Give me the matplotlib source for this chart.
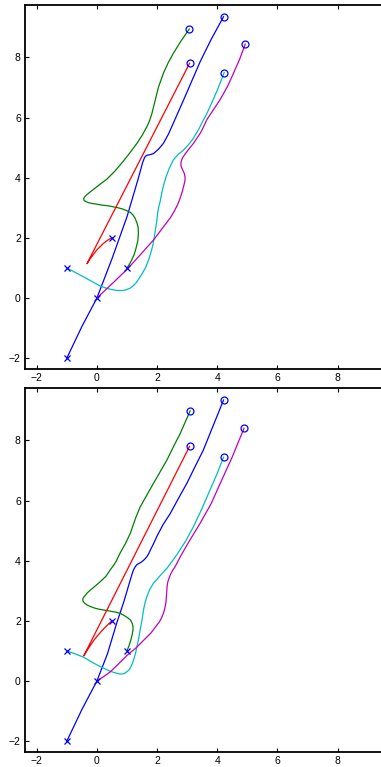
import matplotlib
matplotlib.use('Agg')
import matplotlib.pyplot as plt
import numpy as np

plt.rcParams['font.family'] = ['Liberation Sans', 'DejaVu Sans']

#%% Trajectories (top panel)
blue_top_x = [-1, -0.5, 0, 0.5, 1.0, 1.36, 1.52, 1.58, 1.62, 1.68, 1.75, 1.88, 2.05, 2.21, 2.38, 2.54, 2.88, 3.43, 3.8, 4.21]
blue_top_y = [-2, -0.95, 0, 1.3, 2.7, 3.92, 4.5, 4.66, 4.72, 4.75, 4.76, 4.8, 4.95, 5.14, 5.45, 5.81, 6.58, 7.85, 8.6, 9.35]

green_top_x = [1.0, 1.08, 1.16, 1.24, 1.3, 1.36, 1.38, 1.37, 1.33, 1.27, 1.2, 1.12, 1.0, 0.85, 0.7, 0.5, 0.33, 0.15,
               0, -0.15, -0.28, -0.38, -0.43, -0.44, -0.41, -0.34, -0.22, -0.05, 0.13, 0.33, 0.6, 0.88,
               1.1, 1.33, 1.5, 1.66, 1.76, 1.83, 1.94, 2.05, 2.21, 2.37, 2.54, 2.8, 3.07]
green_top_y = [1.0, 1.12, 1.27, 1.45, 1.65, 1.9, 2.15, 2.35, 2.5, 2.65, 2.76, 2.84, 2.9, 2.96, 3.0, 3.04, 3.07, 3.09,
               3.12, 3.14, 3.17, 3.21, 3.25, 3.3, 3.36, 3.43, 3.53, 3.66, 3.8, 3.95, 4.22, 4.55,
               4.83, 5.14, 5.4, 5.69, 5.92, 6.14, 6.58, 7.02, 7.47, 7.82, 8.13, 8.55, 8.94]

red_top_x = [0.5, 0.4, 0.3, 0.2, 0.11, 0.0, -0.1, -0.22, -0.33, 3.08]
red_top_y = [2.0, 1.95, 1.88, 1.8, 1.71, 1.6, 1.47, 1.31, 1.14, 7.8]

cyan_top_x = [-1, -0.72, -0.44, -0.15, 0.11, 0.3, 0.45, 0.6, 0.72, 0.85, 0.95, 1.04, 1.11, 1.2, 1.3, 1.37, 1.44,
              1.52, 1.6, 1.66, 1.72, 1.77, 1.82, 1.86, 1.89, 1.92, 1.95, 1.99, 2.02, 2.05, 2.1, 2.14,
              2.18, 2.23, 2.3, 2.4, 2.54, 2.7, 2.88, 3.05, 3.2, 3.38, 3.54, 3.65, 3.76, 4.0, 4.23]
cyan_top_y = [1, 0.85, 0.7, 0.54, 0.4, 0.33, 0.29, 0.26, 0.25, 0.25, 0.27, 0.3, 0.33, 0.4, 0.5, 0.6, 0.71,
              0.84, 0.98, 1.12, 1.27, 1.43, 1.6, 1.76, 1.93, 2.1, 2.3, 2.55, 2.82, 3.0, 3.2, 3.4,
              3.6, 3.8, 4.03, 4.3, 4.59, 4.77, 4.92, 5.1, 5.3, 5.6, 5.92, 6.12, 6.36, 6.9, 7.49]

magenta_top_x = [0, 0.5, 1.0, 1.5, 1.9, 2.2, 2.45, 2.57, 2.67, 2.75, 2.81, 2.86, 2.9, 2.93, 2.93, 2.91, 2.88, 2.84,
                 2.81, 2.79, 2.8, 2.82, 2.86, 2.92, 2.98, 3.08, 3.21, 3.33, 3.45, 3.55, 3.65, 3.9, 4.1,
                 4.35, 4.54, 4.75, 4.93]
magenta_top_y = [0, 0.47, 0.95, 1.5, 1.95, 2.35, 2.68, 2.88, 3.08, 3.27, 3.45, 3.62, 3.78, 3.92, 4.02, 4.12, 4.2, 4.28,
                 4.35, 4.43, 4.52, 4.6, 4.68, 4.77, 4.85, 4.98, 5.14, 5.32, 5.5, 5.7, 5.92, 6.3, 6.6,
                 7.05, 7.47, 7.95, 8.44]

#%% Trajectories (bottom panel)
blue_bot_x = [-1, -0.5, 0, 0.35, 0.66, 0.9, 1.11, 1.17, 1.22, 1.27, 1.32, 1.38, 1.44, 1.5, 1.58, 1.66, 1.73, 1.8,
              1.9, 1.99, 2.2, 2.44, 2.7, 2.99, 3.25, 3.54, 3.85, 4.21]
blue_bot_y = [-2, -0.95, 0, 0.9, 1.93, 2.65, 3.36, 3.56, 3.7, 3.79, 3.86, 3.9, 3.93, 3.97, 4.04, 4.13, 4.25, 4.4,
              4.6, 4.8, 5.2, 5.57, 6.05, 6.57, 7.1, 7.68, 8.45, 9.34]

green_bot_x = [1.0, 1.07, 1.13, 1.17, 1.2, 1.2, 1.18, 1.15, 1.11, 1.04, 0.95, 0.87, 0.77, 0.62, 0.45, 0.28, 0.11,
               -0.03, -0.15, -0.25, -0.33, -0.41, -0.46, -0.47, -0.45, -0.4, -0.33, -0.22, -0.1, 0.11,
               0.3, 0.44, 0.56, 0.65, 0.77, 0.95, 1.11, 1.3, 1.44, 1.66, 1.88, 2.1, 2.33, 2.55, 2.77, 3.1]
green_bot_y = [1.0, 1.18, 1.37, 1.53, 1.7, 1.8, 1.9, 1.97, 2.03, 2.09, 2.15, 2.2, 2.25, 2.29, 2.32, 2.35, 2.38,
               2.41, 2.45, 2.49, 2.53, 2.59, 2.65, 2.71, 2.77, 2.83, 2.92, 3.02, 3.12, 3.3,
               3.48, 3.69, 3.85, 4.0, 4.25, 4.57, 4.91, 5.45, 5.79, 6.18, 6.57, 6.95, 7.35, 7.8, 8.23, 8.98]

red_bot_x = [0.5, 0.38, 0.25, 0.13, 0, -0.11, -0.22, -0.33, -0.44, 3.08]
red_bot_y = [2.0, 1.89, 1.76, 1.63, 1.48, 1.34, 1.18, 1.01, 0.83, 7.8]

cyan_bot_x = [-1, -0.72, -0.44, -0.17, 0.11, 0.3, 0.45, 0.62, 0.77, 0.9, 1.0, 1.07, 1.12, 1.17, 1.22, 1.28, 1.33,
              1.39, 1.44, 1.5, 1.55, 1.6, 1.66, 1.76, 1.88, 2.0, 2.1, 2.2, 2.33, 2.5, 2.66, 2.8, 2.95,
              3.21, 3.5, 3.76, 4.0, 4.21]
cyan_bot_y = [1, 0.9, 0.79, 0.63, 0.48, 0.39, 0.32, 0.27, 0.23, 0.24, 0.31, 0.37, 0.45, 0.56, 0.7, 0.9, 1.14,
              1.42, 1.7, 2.03, 2.36, 2.6, 2.8, 3.05, 3.25, 3.38, 3.5, 3.61, 3.75, 3.98, 4.2, 4.42, 4.65,
              5.13, 5.75, 6.35, 6.9, 7.44]

magenta_bot_x = [0, 0.2, 0.44, 0.7, 1.0, 1.3, 1.55, 1.8, 1.99, 2.08, 2.15, 2.22, 2.27, 2.3, 2.31, 2.32, 2.33, 2.34,
                 2.36, 2.4, 2.45, 2.52, 2.6, 2.68, 2.77, 3.1, 3.43, 3.8, 4.1, 4.5, 4.89]
magenta_bot_y = [0, 0.13, 0.3, 0.55, 0.85, 1.1, 1.35, 1.6, 1.85, 1.97, 2.1, 2.27, 2.47, 2.65, 2.8, 2.95, 3.1, 3.2,
                 3.3, 3.42, 3.55, 3.68, 3.8, 3.95, 4.13, 4.7, 5.24, 5.9, 6.57, 7.45, 8.4]

top = [(blue_top_x, blue_top_y, 'b'), (green_top_x, green_top_y, 'g'), (red_top_x, red_top_y, 'r'),
       (cyan_top_x, cyan_top_y, 'c'), (magenta_top_x, magenta_top_y, 'm')]
bottom = [(blue_bot_x, blue_bot_y, 'b'), (green_bot_x, green_bot_y, 'g'), (red_bot_x, red_bot_y, 'r'),
          (cyan_bot_x, cyan_bot_y, 'c'), (magenta_bot_x, magenta_bot_y, 'm')]

xticks = [-2, 0, 2, 4, 6, 8]
yticks = [-2, 0, 2, 4, 6, 8]


#%% Plotting
def draw(ax, paths):
    for x, y, col in paths:
        ax.plot(x, y, color=col, lw=0.9)
    for x, y, col in paths:
        ax.plot(x[0], y[0], 'bx', ms=4, mew=0.9)
        ax.plot(x[-1], y[-1], 'bo', ms=5, mew=0.9, mfc='none')
    ax.set_xlim(-2.39, 9.71)
    ax.set_ylim(-2.37, 9.73)
    ax.set_xticks(xticks)
    ax.set_yticks(yticks)
    ax.tick_params(direction='in', top=True, right=True, length=3, width=0.8, labelsize=7.5, pad=3)
    for s in ax.spines.values():
        s.set_linewidth(1.3)


fig = plt.figure(figsize=(3.81, 7.67), dpi=100)
ax1 = fig.add_axes([25 / 381, 1 - 369.3 / 767, 364 / 381, 364 / 767])
ax2 = fig.add_axes([25 / 381, 1 - 752.3 / 767, 364 / 381, 364 / 767])
draw(ax1, top)
draw(ax2, bottom)
fig.savefig('out.png', dpi=100)
